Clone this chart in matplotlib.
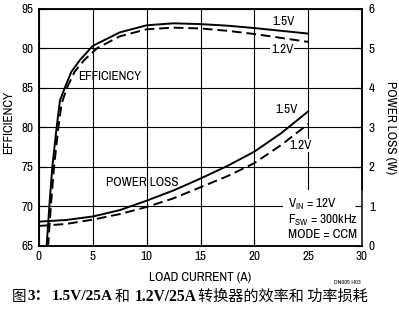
import matplotlib
matplotlib.use("Agg")
import matplotlib.pyplot as plt
from matplotlib import font_manager

# ---------------- data ----------------
eff15_x = [0.6, 0.71, 0.96, 1.24, 1.64, 1.95, 2.4, 3.0, 3.8, 5.0, 7.5, 10, 12.5, 15, 17.5, 20, 22.5, 25]
eff15_y = [63, 65, 70, 75, 80, 83.4, 85, 87, 88.5, 90.3, 92.0, 92.9, 93.15, 93.05, 92.85, 92.55, 92.2, 91.85]
eff12_x = [0.7, 0.85, 1.1, 1.4, 1.8, 2.1, 2.6, 3.3, 4.2, 5.4, 7.5, 10, 12.5, 15, 17.5, 20, 22.5, 25]
eff12_y = [63, 65, 70, 75, 80, 83, 85, 87, 88.5, 90, 91.5, 92.4, 92.6, 92.5, 92.2, 91.8, 91.3, 90.8]

loss_x = [0, 2.5, 5, 7.5, 10, 12.5, 15, 17.5, 20, 22.5, 25]
loss15 = [0.61, 0.65, 0.74, 0.9, 1.14, 1.4, 1.7, 2.02, 2.38, 2.85, 3.4]
loss12 = [0.50, 0.55, 0.66, 0.8, 0.98, 1.2, 1.48, 1.76, 2.09, 2.55, 3.08]

x_ticks = [0, 5, 10, 15, 20, 25, 30]
eff_ticks = [65, 70, 75, 80, 85, 90, 95]
loss_ticks = [0, 1, 2, 3, 4, 5, 6]

# ---------------- fonts ----------------
names = {f.name for f in font_manager.fontManager.ttflist}
SANS = "Archivo Narrow" if "Archivo Narrow" in names else (
    "PT Sans Narrow" if "PT Sans Narrow" in names else "DejaVu Sans")
plt.rcParams["font.family"] = [SANS, "DejaVu Sans"]
plt.rcParams["mathtext.fontset"] = "custom"
plt.rcParams["mathtext.rm"] = SANS
plt.rcParams["mathtext.it"] = SANS
plt.rcParams["mathtext.bf"] = SANS
plt.rcParams["mathtext.default"] = "regular"

fig = plt.figure(figsize=(3.99, 3.09), dpi=100)
ax = fig.add_axes([39/399, 1-245.7/309, 323/399, 237/309])
ax2 = ax.twinx()

ax.set_xlim(0, 30)
ax.set_ylim(65, 95)
ax2.set_ylim(0, 6)
ax.set_xticks(x_ticks)
ax.set_yticks(eff_ticks)
ax2.set_yticks(loss_ticks)

for a in (ax, ax2):
    for s in a.spines.values():
        s.set_linewidth(1.1)
ax.tick_params(axis="both", direction="in", length=5, width=0.8, labelsize=9.5, pad=4)
ax2.tick_params(axis="y", direction="in", length=5, width=0.8, labelsize=9.5, pad=5)
ax.grid(True, color="black", linewidth=0.8)
ax.set_axisbelow(True)

ax.set_xlabel("LOAD CURRENT (A)", fontsize=9.5, labelpad=7)
ax.set_ylabel("EFFICIENCY", fontsize=9.5, labelpad=5)
ax.yaxis.set_label_coords(-0.077, 0.52)
ax2.set_ylabel("POWER LOSS (W)", fontsize=9.5, rotation=270, labelpad=15)

lw = 1.4
ax.plot(eff15_x, eff15_y, color="black", lw=lw)
ax.plot(eff12_x, eff12_y, color="black", lw=lw, dashes=(5, 2.5))
ax2.plot(loss_x, loss15, color="black", lw=lw)
ax2.plot(loss_x, loss12, color="black", lw=lw, dashes=(5, 2.5))

txt = dict(fontsize=9.5, color="black")
ax.text(22.7, 93.35, "1.5V", ha="center", va="center", **txt)
ax.text(22.6, 89.8, "1.2V", ha="center", va="center",
        bbox=dict(facecolor="white", edgecolor="none", pad=0.5), **txt)
ax.text(23.0, 82.2, "1.5V", ha="center", va="center", **txt)
ax.text(24.3, 77.7, "1.2V", ha="center", va="center",
        bbox=dict(facecolor="white", edgecolor="none", pad=0.5), **txt)
ax.text(3.6, 86.4, "EFFICIENCY", ha="left", va="center", **txt)
ax.text(9.55, 73.0, "POWER LOSS", ha="center", va="center", **txt)
ax.text(23.15, 68.45, "V$_{IN}$ = 12V\nF$_{SW}$ = 300kHz\nMODE = CCM", ha="left", va="center",
        linespacing=1.08, fontsize=9.5,
        bbox=dict(facecolor="white", edgecolor="none", pad=3.5), zorder=5)

fig.text(347/399, 1-282/309, "DN005 H03", fontsize=4.5, ha="center", va="center", fontweight="bold")

# ---------------- caption ----------------
CJK = ["Noto Sans CJK SC", "DejaVu Sans"]
SERIF = ["Liberation Serif", "Noto Sans CJK SC"]
# (text, family, weight, left px, target width px)
pieces = [("图", CJK, "normal", 11.7, 14.5), ("3：", SERIF, "bold", 27, None),
          ("1.5V/25A", SERIF, "bold", 52, 61), ("和", CJK, "normal", 115, 15),
          ("1.2V/25A", SERIF, "bold", 135, 62),
          ("转换器的效率和 功率损耗", CJK, "normal", 198, 170)]
fig.canvas.draw()
renderer = fig.canvas.get_renderer()
ypix = 309 - 296.7
for s, fam, wt, x0, wtarget in pieces:
    fs = 11.0
    t = fig.text(x0/399, ypix/309, s, family=fam, fontweight=wt, fontsize=fs,
                 ha="left", va="center")
    if wtarget:
        bb = t.get_window_extent(renderer=renderer)
        fs = fs * wtarget / bb.width
        fs = max(9.5, min(fs, 12.5))
        t.set_fontsize(fs)

fig.savefig("out.png", dpi=100)
